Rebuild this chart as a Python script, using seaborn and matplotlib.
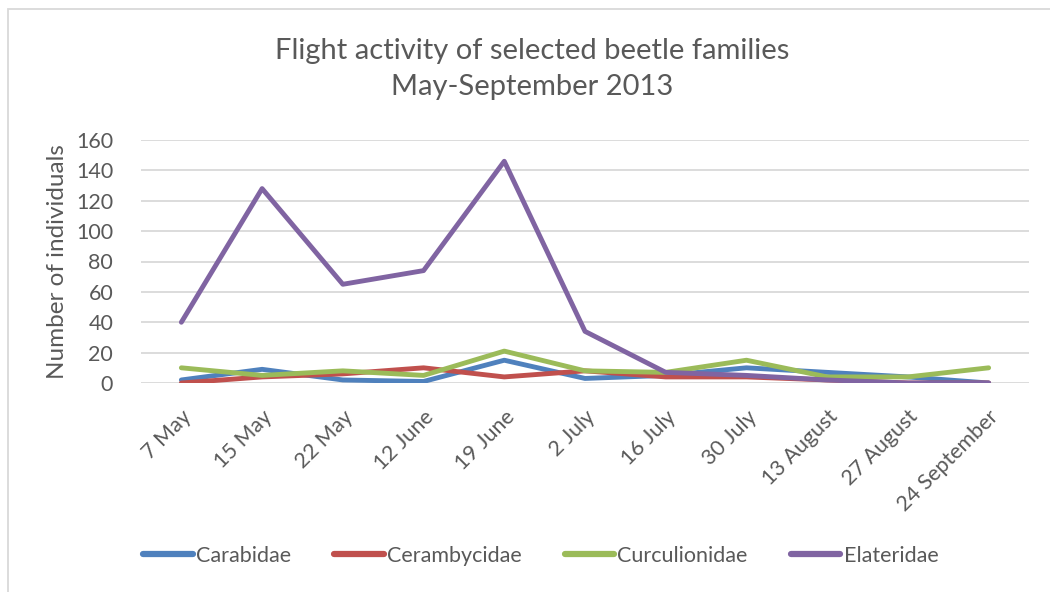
import matplotlib
matplotlib.use("Agg")
import matplotlib.pyplot as plt
import seaborn as sns
import pandas as pd
from matplotlib.patches import Rectangle

# Sampling dates
dates = ["7 May", "15 May", "22 May", "12 June", "19 June", "2 July",
         "16 July", "30 July", "13 August", "27 August", "24 September"]

# Individuals caught per sampling date
carabidae = [2, 9, 2, 1, 15, 3, 5, 10, 7, 4, 0]
cerambycidae = [0, 4, 6, 10, 4, 8, 4, 4, 2, 0, 0]
curculionidae = [10, 5, 8, 5, 21, 8, 7, 15, 4, 4, 10]
elateridae = [40, 128, 65, 74, 146, 34, 7, 5, 2, 0, 0]

families = ["Carabidae", "Cerambycidae", "Curculionidae", "Elateridae"]
colors = ["#4F81BD", "#C0504D", "#9BBB59", "#8064A2"]

rows = []
for fam, vals in zip(families, [carabidae, cerambycidae, curculionidae, elateridae]):
    for i, (d, v) in enumerate(zip(dates, vals)):
        rows.append({"pos": i, "date": d, "family": fam, "count": v})
df = pd.DataFrame(rows)

sns.set_theme(style="white")
plt.rcParams["font.family"] = ["Lato", "DejaVu Sans"]
text_color = "#595959"

fig = plt.figure(figsize=(10.5, 5.92), dpi=100)
ax = fig.add_axes([141 / 1050, 1 - 383 / 592, 888 / 1050, 243 / 592])

sns.lineplot(data=df, x="pos", y="count", hue="family", hue_order=families,
             palette=colors, linewidth=3.5, ax=ax, legend=False,
             solid_capstyle="round", solid_joinstyle="round")

ax.set_xlim(-0.5, len(dates) - 0.5)
ax.set_ylim(0, 160)
ax.set_yticks(range(0, 161, 20))
ax.set_yticklabels([str(v) for v in range(0, 161, 20)], fontsize=15.5, color=text_color)
ax.set_xticks(range(len(dates)))
ax.set_xticklabels(dates, rotation=45, ha="right", rotation_mode="anchor",
                   fontsize=15.5, color=text_color)
ax.tick_params(axis="x", length=0, pad=17)
ax.tick_params(axis="y", length=0, pad=20)
ax.yaxis.grid(True, color="#D9D9D9", linewidth=1.3)
ax.set_axisbelow(True)
for s in ax.spines.values():
    s.set_visible(False)
ax.set_xlabel("")
ax.set_ylabel("Number of individuals", fontsize=17.5, color=text_color, labelpad=6)

fig.text(0.507, 1 - 69 / 592, "Flight activity of selected beetle families\nMay-September 2013",
         ha="center", va="center", fontsize=21, color=text_color, linespacing=1.5)

handles = [plt.Line2D([], [], color=c, linewidth=4.5, solid_capstyle="round") for c in colors]
leg = fig.legend(handles, families, loc="center", bbox_to_anchor=(0.515, 1 - 556 / 592),
                 ncol=4, frameon=False, fontsize=15.5, handlelength=2.3, handletextpad=0.15,
                 columnspacing=2.0)
for t in leg.get_texts():
    t.set_color(text_color)

# Light chart-area border
fig.patches.append(Rectangle((8 / 1050, -0.02), 1.1, 1 - 9 / 592 + 0.02,
                             transform=fig.transFigure, fill=False,
                             edgecolor="#D9D9D9", linewidth=1.3))

fig.savefig("out.png", dpi=100, facecolor="white")
